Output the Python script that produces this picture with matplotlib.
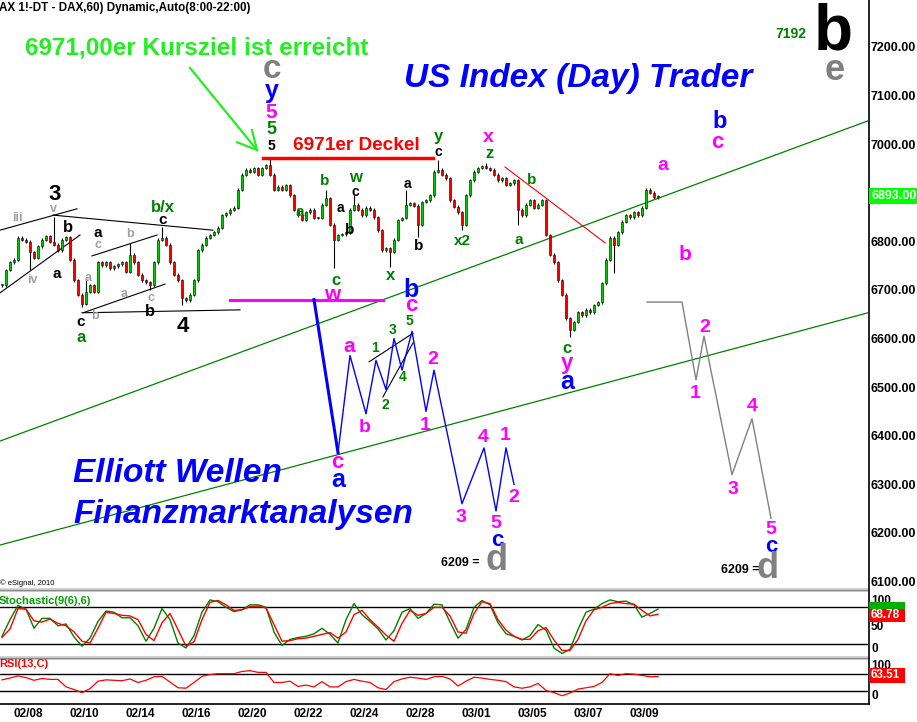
import numpy as np
import matplotlib
matplotlib.use("Agg")
import matplotlib.pyplot as plt
from matplotlib.lines import Line2D
from matplotlib.patches import Rectangle

plt.rcParams['font.family'] = ['Liberation Sans', 'DejaVu Sans']

# DAX 60 min, one candle per 2 hours, closes
closes = [6710, 6741, 6757, 6762, 6807, 6803, 6799, 6778, 6766, 6790, 6803, 6811, 6799, 6793, 6782, 6803, 6809,
          6762, 6720, 6690, 6671, 6696, 6710, 6696, 6757, 6751, 6757, 6745, 6749, 6753, 6757, 6737, 6772, 6757,
          6731, 6720, 6716, 6710, 6757, 6803, 6807, 6793, 6757, 6731, 6720, 6683, 6679, 6690, 6720, 6782, 6793,
          6807, 6813, 6819, 6828, 6854, 6858, 6865, 6869, 6906, 6937, 6947, 6943, 6951, 6937, 6951, 6957, 6937,
          6906, 6912, 6906, 6916, 6895, 6865, 6854, 6844, 6860, 6865, 6848, 6848, 6875, 6889, 6834, 6803, 6813,
          6815, 6819, 6865, 6875, 6865, 6854, 6869, 6865, 6850, 6823, 6782, 6786, 6778, 6803, 6844, 6848, 6875,
          6879, 6873, 6834, 6881, 6885, 6895, 6943, 6947, 6937, 6930, 6885, 6871, 6860, 6834, 6895, 6926, 6943,
          6951, 6955, 6951, 6947, 6937, 6926, 6930, 6916, 6920, 6926, 6865, 6854, 6875, 6885, 6869, 6875, 6885,
          6813, 6772, 6757, 6720, 6690, 6642, 6618, 6634, 6654, 6648, 6659, 6654, 6669, 6675, 6714, 6762, 6807,
          6793, 6819, 6840, 6854, 6850, 6860, 6854, 6869, 6906, 6900, 6891, 6893]
# long wicks (bar index -> price)
spike_high = {13: 6850, 17: 6767, 21: 6727, 32: 6797, 40: 6830, 67: 6971, 81: 6906,
              88: 6895, 101: 6906, 109: 6967, 121: 6962, 161: 6910}
spike_low = {7: 6741, 20: 6664, 37: 6700, 45: 6669, 83: 6745, 97: 6747, 104: 6809,
             115: 6823, 129: 6834, 142: 6603, 153: 6735}

# indicators, one value every 2 candles
stoch_k = [33, 60, 83, 77, 46, 62, 62, 50, 53, 32, 17, 30, 57, 74, 72, 63, 63, 50, 25, 46,
           78, 60, 22, 14, 34, 72, 92, 89, 80, 73, 76, 84, 84, 80, 40, 18, 28, 31, 33, 37,
           46, 36, 22, 60, 86, 68, 57, 45, 27, 42, 72, 78, 62, 70, 85, 84, 56, 30, 44, 80,
           91, 84, 55, 37, 33, 27, 34, 52, 43, 14, 5, 12, 44, 72, 77, 86, 92, 89, 90, 84,
           64, 70, 77]
stoch_d = [31, 45, 78, 77, 58, 56, 61, 54, 50, 40, 25, 22, 46, 72, 70, 67, 66, 60, 36, 26,
           55, 70, 44, 17, 24, 60, 88, 91, 84, 75, 76, 81, 82, 79, 52, 25, 26, 29, 30, 33,
           36, 39, 30, 40, 68, 75, 60, 48, 35, 25, 54, 75, 67, 70, 80, 80, 66, 40, 38, 70,
           89, 86, 60, 43, 33, 28, 28, 42, 47, 27, 10, 10, 28, 58, 76, 80, 86, 88, 86, 85,
           75, 66, 68.78]
rsi = [56, 60, 65, 61, 55, 59, 57, 57, 40, 34, 27, 36, 53, 56, 55, 54, 58, 50, 55, 63,
       64, 51, 38, 37, 50, 64, 68, 70, 70, 70, 75, 77, 73, 73, 50, 50, 53, 41, 44, 40,
       52, 40, 40, 52, 57, 53, 50, 38, 34, 52, 58, 62, 60, 57, 63, 64, 58, 42, 53, 62,
       60, 57, 55, 52, 40, 37, 40, 48, 32, 27, 20, 26, 35, 38, 41, 50, 70, 66, 70, 69,
       66, 63, 63.51]

date_labels = ['02/08', '02/10', '02/14', '02/16', '02/20', '02/22', '02/24', '02/28',
               '03/01', '03/05', '03/07', '03/09']
price_ticks = list(range(6100, 7201, 100))

# drawn wave counts / trend lines (candle index, price)
blue_wave_x = [78, 84, 87, 91, 93.5, 96, 98, 100, 102.5, 106, 108, 115, 120.5, 123.5, 126, 128]
blue_wave_y = [6680, 6365, 6565, 6445, 6555, 6495, 6600, 6535, 6615, 6450, 6535, 6260, 6375, 6245, 6375, 6300]
grey_wave_x = [161.25, 170, 173.5, 175.5, 182.5, 187.5, 192.25]
grey_wave_y = [6675, 6675, 6515, 6605, 6320, 6435, 6230]
channel_x = [-0.5, 216.5]
channel_upper = [6389, 7048]
channel_lower = [6175, 6653]
black_lines = [([-0.5, 18.75], [6823, 6867]), ([-0.5, 19.5], [6694, 6813]),
               ([12.75, 52.75], [6854, 6823]), ([20, 59.5], [6653, 6659]),
               ([22.5, 38.75], [6770, 6813]), ([20.25, 40.75], [6653, 6712]),
               ([91.75, 102.75], [6552, 6611]), ([95.25, 102.75], [6480, 6591])]
arrow_lines = [([47, 63.75], [7157, 6988]), ([58.75, 63.75], [7004, 6988]), ([62.5, 63.75], [7029, 6988])]
deckel_x, deckel_y = [65.25, 107.75], [6971, 6971]
w_line_x, w_line_y = [57, 95.25], [6679, 6679]
red_trend_x, red_trend_y = [125.75, 150.75], [6953, 6797]

W, H = 917, 722
fig = plt.figure(figsize=(W / 100, H / 100), dpi=100)
fig.patch.set_facecolor('white')


def panel(top, bottom):
    a = fig.add_axes([0, 1 - bottom / H, 868 / W, (bottom - top) / H])
    a.set_xlim(-0.5, 216.5)
    a.set_facecolor('none')
    for s in a.spines.values():
        s.set_visible(False)
    a.set_xticks([])
    a.set_yticks([])
    return a


ax = panel(0, 588)
ax_st = panel(592, 657)
ax_rsi = panel(659, 704)
ax.set_ylim(6086.6, 7296.7)
ax_st.set_ylim(-0.6, 104.8)
ax_rsi.set_ylim(1.1, 103.4)

# candles
c = np.array(closes, dtype=float)
o = np.r_[c[0], c[:-1]]
xs = np.arange(len(c))
hi = np.maximum(o, c) + 3
lo = np.minimum(o, c) - 3
for i, v in spike_high.items():
    hi[i] = max(hi[i], v)
for i, v in spike_low.items():
    lo[i] = min(lo[i], v)
ax.vlines(xs, lo, hi, color='black', lw=0.8, zorder=2)
body = np.maximum(np.abs(c - o), 2)
cols = np.where(c >= o, '#00CC00', '#FF0000')
ax.bar(xs, body, bottom=np.minimum(o, c), width=0.7, color=cols, edgecolor='black', linewidth=0.4, zorder=3)

# trend lines and wave paths
ax.plot(channel_x, channel_upper, color='#008000', lw=0.9)
ax.plot(channel_x, channel_lower, color='#008000', lw=0.9)
for lx, ly in black_lines:
    ax.plot(lx, ly, color='black', lw=0.8)
for lx, ly in arrow_lines:
    ax.plot(lx, ly, color='#22EE22', lw=1.6)
ax.plot(deckel_x, deckel_y, color='#FF0000', lw=2.5)
ax.plot(w_line_x, w_line_y, color='#FF00FF', lw=2.2)
ax.plot(red_trend_x, red_trend_y, color='#FF0000', lw=0.8)
ax.plot(blue_wave_x[:2], blue_wave_y[:2], color='#0000FF', lw=2.2)
ax.plot(blue_wave_x[1:], blue_wave_y[1:], color='#0000FF', lw=1.0)
ax.plot(grey_wave_x, grey_wave_y, color='#808080', lw=1.0)

# price scale
ax.yaxis.tick_right()
ax.set_yticks(price_ticks)
ax.set_yticklabels([f'{v}.00' for v in price_ticks], fontsize=9, fontweight='bold')
ax.tick_params(axis='y', length=0, pad=2)

# stochastic
ind_x = np.arange(len(stoch_k)) * 2
ax_st.axhline(80, color='black', lw=1)
ax_st.axhline(20, color='black', lw=1)
ax_st.plot(ind_x, stoch_k, color='#008000', lw=1)
ax_st.plot(ind_x[:len(stoch_d)], stoch_d, color='#FF0000', lw=1)

# rsi
ax_rsi.axhline(70, color='black', lw=1)
ax_rsi.axhline(30, color='black', lw=1)
ax_rsi.plot(ind_x[:len(rsi)], rsi, color='#FF0000', lw=0.9)
ax_rsi.set_xticks(6.5 + 14 * np.arange(len(date_labels)))
ax_rsi.set_xticklabels(date_labels, fontsize=8.5, fontweight='bold')
ax_rsi.tick_params(axis='x', length=0, pad=3)


def fx(px):
    return px / W


def fy(py):
    return 1 - py / H


def put(px, py, s, color, size, ha='center', style='normal', weight='bold', z=5):
    fig.text(fx(px), fy(py), s, color=color, fontsize=size, ha=ha, va='center',
             fontweight=weight, fontstyle=style, zorder=z)


def frame_line(xa, ya, color, lw):
    fig.add_artist(Line2D([fx(xa[0]), fx(xa[1])], [fy(ya[0]), fy(ya[1])], color=color, lw=lw))


# separators and frame
for top in (588, 656):
    fig.add_artist(Rectangle((0, fy(top + 4)), fx(868), 4 / H, facecolor='#D4D4D4', edgecolor='none'))
    frame_line((0, 868), (top + 1.5, top + 1.5), '#8C8C8C', 1)
frame_line((868.5, 868.5), (0, 704), 'black', 1.2)
frame_line((0, 868.5), (704, 704), 'black', 1.2)


def box(x0, y0, x1, y1, color, text=None, size=9):
    fig.add_artist(Rectangle((fx(x0), fy(y1)), (x1 - x0) / W, (y1 - y0) / H,
                             facecolor=color, edgecolor='none', zorder=6))
    if text:
        fig.text(fx(x0 + 2), fy((y0 + y1) / 2), text, color='white', fontsize=size,
                 fontweight='bold', va='center', ha='left', zorder=7)


box(869, 188, 917, 204, '#00FF00', '6893.00')
put(871, 601, '100', 'black', 8.5, ha='left')
put(871, 627, '50', 'black', 8.5, ha='left')
put(871, 649, '0', 'black', 8.5, ha='left')
box(869, 602, 905, 609, '#00B000')
box(869, 609, 905, 622, '#FF0000', '68.78', 8.5)
put(871, 666, '100', 'black', 8.5, ha='left')
put(871, 696, '0', 'black', 8.5, ha='left')
box(869, 668, 905, 683, '#FF0000', '63.51', 8.5)

# header texts
put(-1, 8, 'AX 1!-DT - DAX,60) Dynamic,Auto(8:00-22:00)', 'black', 8.4, ha='left')
put(0, 583, '\u00a9 eSignal, 2010', 'black', 5.5, ha='left', weight='normal')
put(-1, 601, 'Stochastic(9(6),6)', '#00A000', 8, ha='left')
put(-1, 664, 'RSI(13,C)', '#FF0000', 8, ha='left')
put(25, 48, '6971,00er Kursziel ist erreicht', '#22EE22', 17.5, ha='left')
put(356, 145, '6971er Deckel', '#FF0000', 13.7)
put(578, 78, 'US Index (Day) Trader', '#0000FF', 24, style='italic')
put(73, 473, 'Elliott Wellen', '#0000FF', 24, ha='left', style='italic')
put(73, 515, 'Finanzmarktanalysen', '#0000FF', 24, ha='left', style='italic')

DG, MG, BL, GR, BK, LG = '#008000', '#FF00FF', '#0000FF', '#808080', 'black', '#A0A0A0'
wave_labels = [
    (272, 70, 'c', GR, 24), (272, 91, 'y', BL, 18), (271, 112, '5', MG, 15), (271, 130, '5', DG, 13),
    (271, 146, '5', BK, 10), (438, 137, 'y', DG, 12), (438, 152, 'c', BK, 10), (488, 138, 'x', MG, 14),
    (490, 153, 'z', DG, 12), (532, 180, 'b', DG, 11), (519, 240, 'a', DG, 11), (462, 241, 'x2', DG, 11),
    (567, 349, 'c', DG, 12), (567, 364, 'y', MG, 16), (567, 382, 'a', BL, 18), (663, 166, 'a', MG, 14),
    (685, 254, 'b', MG, 15), (720, 121, 'b', BL, 17), (717, 142, 'c', MG, 16), (791, 34, '7192', DG, 10),
    (833, 32, 'b', BK, 46), (835, 70, 'e', GR, 26),
    (300, 212, 'a', DG, 11), (325, 181, 'b', DG, 11), (355, 178, 'w', DG, 12), (355, 192, 'c', BK, 10),
    (340, 208, 'a', BK, 10), (350, 230, 'b', BK, 11), (336, 280, 'c', DG, 12), (391, 276, 'x', DG, 12),
    (407, 184, 'a', BK, 10), (419, 246, 'b', BK, 11),
    (55, 195, '3', BK, 16), (17, 218, 'iii', LG, 9), (53, 209, 'v', LG, 9), (32, 280, 'iv', LG, 9),
    (68, 228, 'b', BK, 12), (57, 274, 'a', BK, 11), (98, 233, 'a', BK, 11), (98, 245, 'c', LG, 9),
    (130, 234, 'b', LG, 9), (88, 278, 'a', LG, 9), (124, 294, 'a', LG, 9), (151, 298, 'c', LG, 9),
    (150, 312, 'b', BK, 12), (95, 316, 'b', LG, 9), (81, 322, 'c', BK, 11), (81, 337, 'a', DG, 12),
    (163, 207, 'b/x', DG, 12), (163, 220, 'c', BK, 11), (183, 327, '4', BK, 16),
    (332, 295, 'w', MG, 15), (411, 290, 'b', BL, 18), (411, 306, 'c', MG, 16), (409, 321, '5', DG, 10),
    (393, 330, '3', DG, 10), (375, 348, '1', DG, 10), (385, 405, '2', DG, 10), (403, 377, '4', DG, 10),
    (349, 347, 'a', MG, 15), (365, 427, 'b', MG, 14), (337, 462, 'c', MG, 16), (338, 480, 'a', BL, 18),
    (433, 360, '2', MG, 14), (425, 425, '1', MG, 14), (461, 518, '3', MG, 14), (483, 438, '4', MG, 14),
    (505, 435, '1', MG, 14), (514, 497, '2', MG, 14), (496, 523, '5', MG, 14), (497, 541, 'c', BL, 16),
    (460, 563, '6209 =', BK, 9), (497, 561, 'd', GR, 26),
    (705, 327, '2', MG, 14), (695, 393, '1', MG, 14), (752, 407, '4', MG, 14), (733, 489, '3', MG, 14),
    (771, 529, '5', MG, 14), (771, 547, 'c', BL, 16), (740, 570, '6209 =', BK, 9), (768, 568, 'd', GR, 26),
]
for px, py, s, col, size in wave_labels:
    put(px, py, s, col, size)

fig.savefig('out.png', dpi=100)
